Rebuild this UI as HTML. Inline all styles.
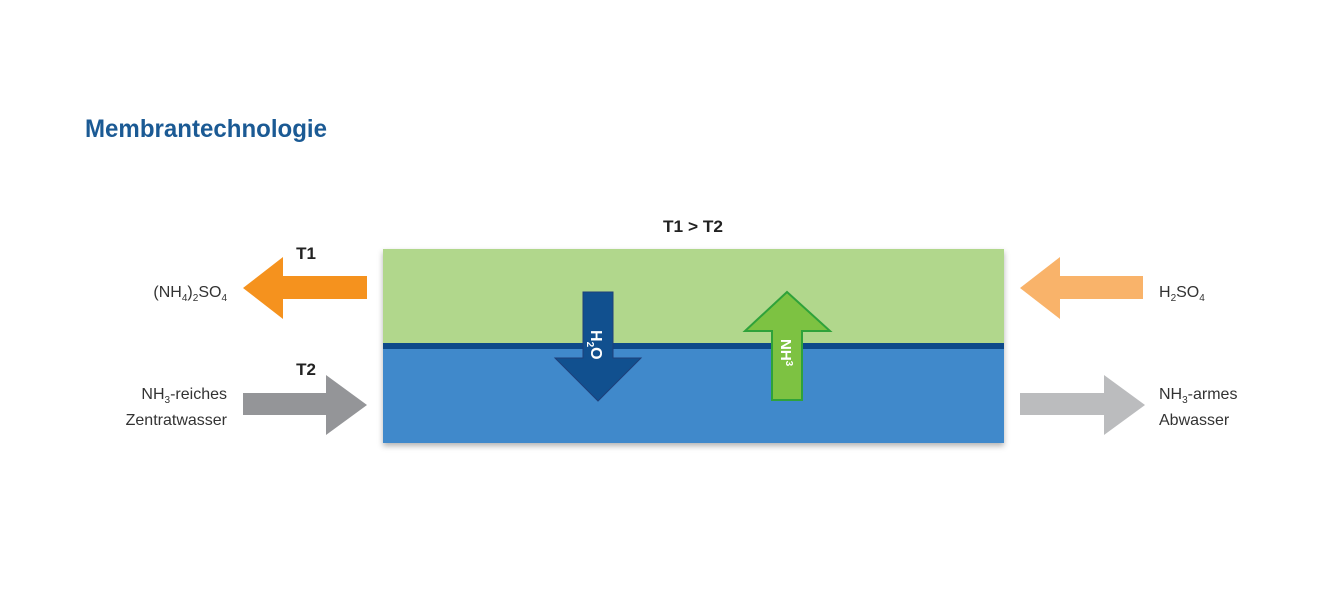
<!DOCTYPE html>
<html><head><meta charset="utf-8"><style>
body{margin:0;background:#fff;}
svg{display:block;font-family:"Liberation Sans",sans-serif;}
</style></head><body>
<svg width="1324" height="597" viewBox="0 0 1324 597">
<defs><filter id="sh" x="-5%" y="-5%" width="110%" height="115%"><feDropShadow dx="0" dy="3" stdDeviation="3" flood-color="#000" flood-opacity="0.3"/></filter></defs>
<text x="85" y="137" font-size="25" font-weight="bold" fill="#1b5a94" textLength="242" lengthAdjust="spacingAndGlyphs">Membrantechnologie</text>
<text x="693" y="232" font-size="17" font-weight="bold" fill="#222" text-anchor="middle" textLength="60" lengthAdjust="spacingAndGlyphs">T1 &gt; T2</text>
<text x="306" y="259" font-size="17" font-weight="bold" fill="#222" text-anchor="middle">T1</text>
<text x="306" y="375" font-size="17" font-weight="bold" fill="#222" text-anchor="middle">T2</text>
<g filter="url(#sh)">
<rect x="383" y="249" width="621" height="95" fill="#b1d78c"/>
<rect x="383" y="343" width="621" height="7" fill="#0d4a8a"/>
<rect x="383" y="349" width="621" height="94" fill="#4189cb"/>
</g>
<polygon points="583,292 613,292 613,358 641,358 598,401 555,358 583,358" fill="#11508f" stroke="#1e3f7a" stroke-width="1"/>
<polygon points="772,400 802,400 802,331 830,331 787,292 745,331 772,331" fill="#7dc242" stroke="#2fa23a" stroke-width="2"/>
<text transform="translate(591,330) rotate(90)" font-size="16" font-weight="bold" fill="#fff">H<tspan font-size="10" dy="4">2</tspan><tspan dy="-4">O</tspan></text>
<text transform="translate(781,339) rotate(90)" font-size="15" font-weight="bold" fill="#fff">NH<tspan font-size="10" dy="-5">3</tspan></text>
<polygon points="367,276 283,276 283,257 243,288 283,319 283,299 367,299" fill="#f5921e"/>
<polygon points="243,393 326,393 326,375 367,405 326,435 326,415 243,415" fill="#949598"/>
<polygon points="1143,276 1060,276 1060,257 1020,288 1060,319 1060,299 1143,299" fill="#f9b36a"/>
<polygon points="1020,393 1104,393 1104,375 1145,405 1104,435 1104,415 1020,415" fill="#bbbcbe"/>
<g font-size="16" fill="#333">
<text x="227" y="297" text-anchor="end">(NH<tspan font-size="10" dy="4">4</tspan><tspan dy="-4">)</tspan><tspan font-size="10" dy="4">2</tspan><tspan dy="-4">SO</tspan><tspan font-size="10" dy="4">4</tspan></text>
<text x="227" y="399" text-anchor="end">NH<tspan font-size="10" dy="4">3</tspan><tspan dy="-4">-reiches</tspan></text>
<text x="227" y="425" text-anchor="end">Zentratwasser</text>
<text x="1159" y="297">H<tspan font-size="10" dy="4">2</tspan><tspan dy="-4">SO</tspan><tspan font-size="10" dy="4">4</tspan></text>
<text x="1159" y="399">NH<tspan font-size="10" dy="4">3</tspan><tspan dy="-4">-armes</tspan></text>
<text x="1159" y="425">Abwasser</text>
</g>
</svg>
</body></html>
